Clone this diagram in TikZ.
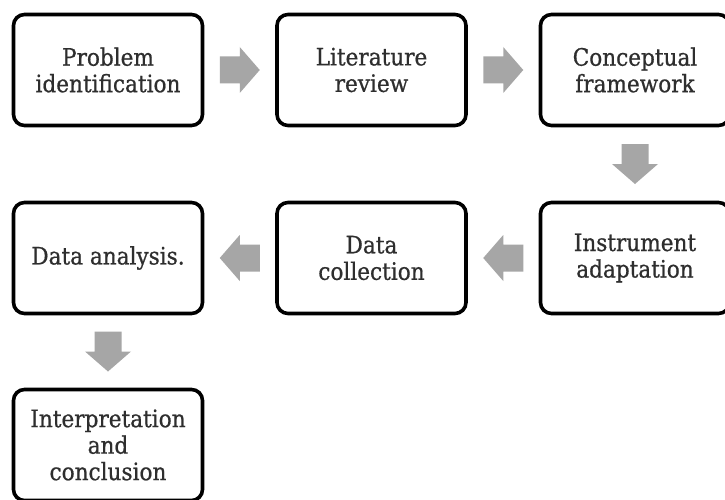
\documentclass[tikz,border=0pt]{standalone}
\usepackage{fontspec}
\setmainfont{DejaVu Serif}[FakeStretch=0.9,FakeBold=0.7]
\usetikzlibrary{calc}
\definecolor{arrowgray}{HTML}{A6A6A6}
\definecolor{txtgray}{HTML}{2E2E2E}
\tikzset{
  box/.style={draw=black, line width=3.6pt, rounded corners=11pt, fill=white,
    minimum width=189pt, minimum height=111pt, align=center, inner sep=0pt,
    text=txtgray, font=\fontsize{24pt}{26.5pt}\selectfont},
  blockarrow/.pic={\fill[arrowgray] (-20,-13.5) -- (0,-13.5) -- (0,-23) -- (20,0) -- (0,23) -- (0,13.5) -- (-20,13.5) -- cycle;}
}
\begin{document}
\begin{tikzpicture}[x=1pt,y=-1pt]
\useasboundingbox (0,0) rectangle (725,500);
\clip (0,0) rectangle (725,500);
\fill[white] (0,0) rectangle (725,500);
\node[box] (b1) at (108,70) {Problem\\identification};
\node[box] (b2) at (371.5,70) {Literature\\review};
\node[box] (b3) at (635,70) {Conceptual\\framework};
\node[box] (b4) at (635,258) {Instrument\\adaptation};
\node[box] (b5) at (371.5,258) {Data\\collection};
\node[box] (b6) at (108,258) {Data analysis.};
\node[box] (b7) at (108,445) {Interpretation\\and\\conclusion};
\pic at ($(b1.east)!0.5!(b2.west)$) {blockarrow};
\pic at ($(b2.east)!0.5!(b3.west)$) {blockarrow};
\pic[rotate=-90] at ($(b3.south)!0.5!(b4.north)$) {blockarrow};
\pic[rotate=180] at ($(b4.west)!0.5!(b5.east)$) {blockarrow};
\pic[rotate=180] at ($(b5.west)!0.5!(b6.east)$) {blockarrow};
\pic[rotate=-90] at ($(b6.south)!0.5!(b7.north)$) {blockarrow};
\end{tikzpicture}
\end{document}
